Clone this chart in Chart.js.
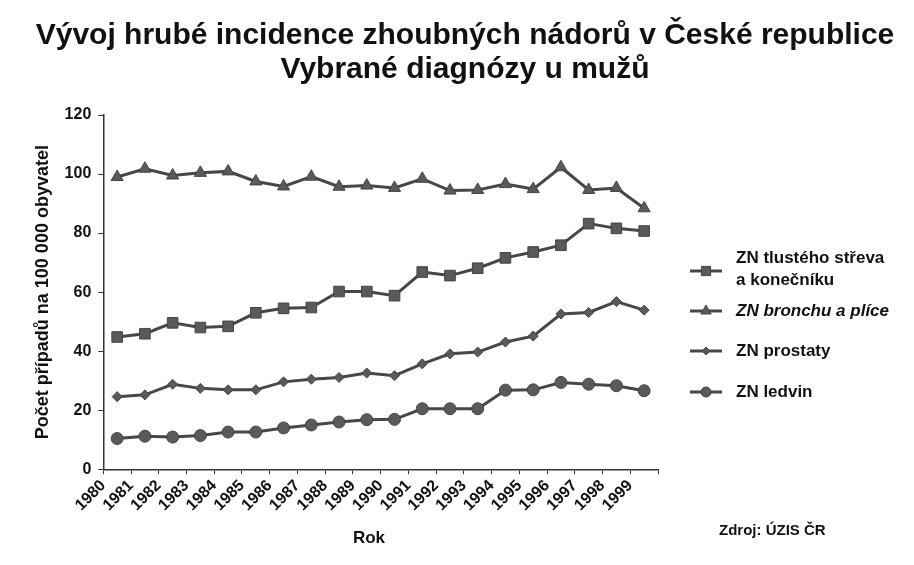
<!DOCTYPE html>
<html>
<head>
<meta charset="utf-8">
<script src="https://cdn.jsdelivr.net/npm/chart.js@4"></script>
<style>
  html,body{margin:0;padding:0;background:#fff;}
  #wrap{width:914px;height:565px;position:relative;}
</style>
</head>
<body>
<div id="wrap"><canvas id="c" width="914" height="565"></canvas></div>
<script>
const years = ['1980','1981','1982','1983','1984','1985','1986','1987','1988','1989','1990','1991','1992','1993','1994','1995','1996','1997','1998','1999'];
const colon    = [44.8,45.9,49.6,48.0,48.4,53.0,54.5,54.8,60.2,60.2,58.8,66.8,65.6,68.1,71.6,73.6,75.9,83.2,81.6,80.7];
const lung     = [99.0,101.8,99.5,100.4,100.9,97.5,95.8,99.1,95.7,96.1,95.3,98.4,94.4,94.6,96.6,94.9,102.3,94.6,95.3,88.4];
const prostate = [24.6,25.2,28.8,27.4,26.9,26.9,29.6,30.5,31.1,32.6,31.7,35.7,39.1,39.7,43.1,45.1,52.6,53.1,56.8,53.9];
const kidney   = [10.4,11.2,10.9,11.4,12.6,12.6,14.0,15.0,16.0,16.8,16.9,20.5,20.5,20.5,26.8,26.9,29.4,28.8,28.3,26.6];
const seriesNames = ['ZN tlustého střeva a konečníku','ZN bronchu a plíce','ZN prostaty','ZN ledvin'];
const legendLines = [['ZN tlustého střeva','a konečníku'],['ZN bronchu a plíce'],['ZN prostaty'],['ZN ledvin']];
const titleLines = ['Vývoj hrubé incidence zhoubných nádorů v České republice','Vybrané diagnózy u mužů'];
const xTitle = 'Rok';
const yTitle = 'Počet případů na 100 000 obyvatel';
const sourceText = 'Zdroj: ÚZIS ČR';

const FONT = '"Liberation Sans", Arial, sans-serif';
const LINE = '#474747';
const MARK = '#5a5a5a';

function pts(arr){ return arr.map((v,i)=>({x:i+0.5,y:v})); }

const styles = [
  {pointStyle:'rect', pointRadius:7.5},
  {pointStyle:'triangle', pointRadius:7},
  {pointStyle:'rectRot', pointRadius:5},
  {pointStyle:'circle', pointRadius:6}
];
const allData = [colon, lung, prostate, kidney];

const datasets = allData.map((arr,k)=>({
  label: seriesNames[k],
  data: pts(arr),
  borderColor: LINE,
  borderWidth: 3,
  backgroundColor: MARK,
  pointBackgroundColor: MARK,
  pointBorderColor: '#444',
  pointBorderWidth: 1,
  pointStyle: styles[k].pointStyle,
  pointRadius: styles[k].pointRadius,
  tension: 0
}));

const decor = {
  id:'decor',
  afterDraw(chart){
    const ctx = chart.ctx;
    ctx.save();
    ctx.fillStyle = '#111';
    ctx.textAlign = 'center';
    ctx.textBaseline = 'middle';
    ctx.font = 'bold 30px ' + FONT;
    ctx.fillText(titleLines[0], 465, 36);
    ctx.fillText(titleLines[1], 465, 70);

    ctx.font = 'bold 17px ' + FONT;
    ctx.fillText(xTitle, 369, 538);

    // legend
    const ys = [[258,280],[311],[351],[392]];
    const markY = [271,311,351,392];
    legendLines.forEach((lines,k)=>{
      const ds = chart.data.datasets[k];
      const my = markY[k];
      ctx.strokeStyle = ds.borderColor;
      ctx.lineWidth = ds.borderWidth;
      ctx.beginPath(); ctx.moveTo(690,my); ctx.lineTo(722,my); ctx.stroke();
      ctx.fillStyle = ds.pointBackgroundColor;
      ctx.strokeStyle = ds.pointBorderColor;
      ctx.lineWidth = 1;
      Chart.helpers.drawPoint(ctx,{pointStyle:ds.pointStyle, radius:ds.pointRadius-1, borderWidth:1, rotation:0}, 706, my);
      ctx.fillStyle = '#111';
      ctx.textAlign = 'left';
      ctx.font = (k===1?'italic ':'') + 'bold 17px ' + FONT;
      lines.forEach((t,j)=> ctx.fillText(t, 736, ys[k][j]));
    });
    ctx.font = 'bold 15px ' + FONT;
    ctx.textAlign = 'left';
    ctx.fillText(sourceText, 719, 531);
    ctx.restore();
  }
};

new Chart(document.getElementById('c'), {
  type:'line',
  data:{datasets},
  options:{
    responsive:false,
    animation:false,
    layout:{padding:{top:115,right:256,left:28,bottom:48}},
    plugins:{legend:{display:false}, title:{display:false}, tooltip:{enabled:false}},
    scales:{
      x:{
        type:'linear', min:0, max:20,
        ticks:{stepSize:1, autoSkip:false, maxRotation:45, minRotation:45, color:'#111',
          font:{family:FONT, size:16, weight:'bold'}, padding:2,
          callback:(v)=> years[v] !== undefined ? years[v] : ''},
        grid:{display:true, drawOnChartArea:false, drawTicks:true, tickLength:5, color:'#333', lineWidth:1},
        border:{display:true, color:'#333', width:1.5},
        title:{display:false}
      },
      y:{
        min:0, max:120,
        ticks:{stepSize:20, color:'#111', font:{family:FONT, size:16, weight:'bold'}, padding:7},
        grid:{display:true, drawOnChartArea:false, drawTicks:true, tickLength:5, color:'#333', lineWidth:1},
        border:{display:true, color:'#333', width:1.5},
        title:{display:true, text:yTitle, color:'#111', font:{family:FONT, size:18, weight:'bold'}, padding:{bottom:4}}
      }
    }
  },
  plugins:[decor]
});
</script>
</body>
</html>
